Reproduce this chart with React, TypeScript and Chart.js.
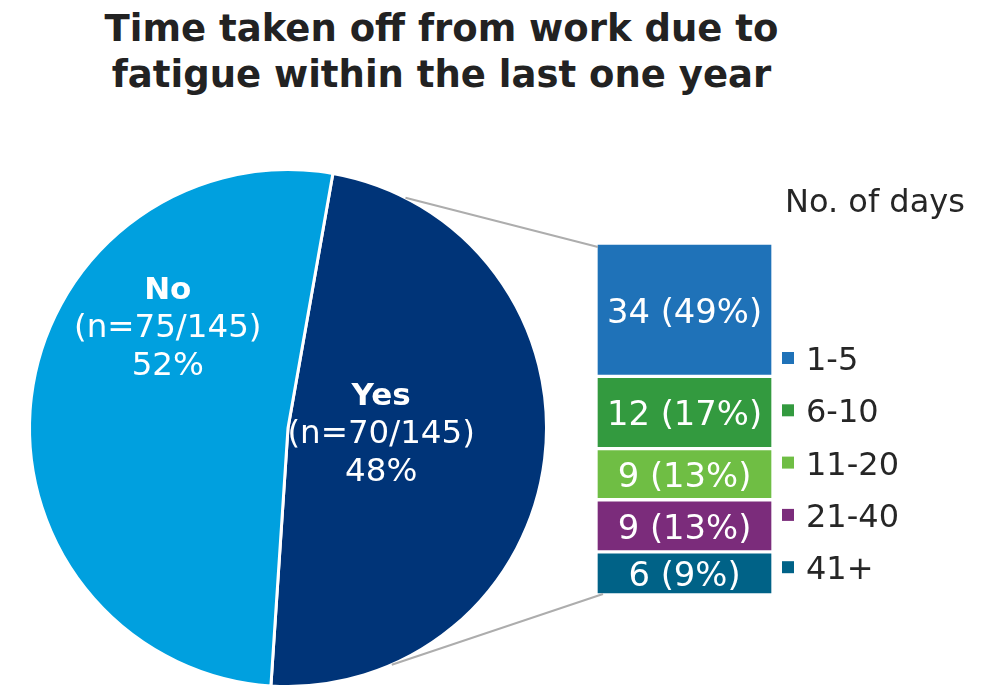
import React, { useEffect, useRef } from 'react';
import { Chart, registerables } from 'chart.js';

Chart.register(...registerables);

// ---------- data ----------
const titleLines = ['Time taken off from work due to', 'fatigue within the last one year'];

const pieCategories = ['Yes', 'No'];
const pieCounts = [70, 75];
const pieTotal = 145;
const piePercents = [48, 52];
const pieColors = ['#003478', '#00A0DF'];

const dayCategories = ['1-5', '6-10', '11-20', '21-40', '41+'];
const dayCounts = [34, 12, 9, 9, 6];
const dayPercents = [49, 17, 13, 13, 9];
// relative box sizes of the stacked bar as drawn in the reference
const dayBoxSizes = [133, 72, 51, 52, 43];
const dayColors = ['#1F72B8', '#339A3F', '#6FBE44', '#7B2C7B', '#006287'];
const legendTitle = 'No. of days';

const W = 985;
const H = 690;
const FONT = '"DejaVu Sans", Verdana, sans-serif';
const TEXT_DARK = '#262626';

// label spots inside the pie (angle in degrees, canvas convention; radius as fraction)
const pieLabelSpots = [
  { angle: 9.2, radius: 0.365 },
  { angle: -142.8, radius: 0.584 },
];

export default function App() {
  const pieRef = useRef<HTMLCanvasElement | null>(null);
  const barRef = useRef<HTMLCanvasElement | null>(null);

  useEffect(() => {
    if (!pieRef.current || !barRef.current) return;

    const pieLabelPlugin = {
      id: 'pieLabels',
      afterDatasetsDraw(chart: any) {
        const ctx = chart.ctx;
        const arcs = chart.getDatasetMeta(0).data;
        arcs.forEach((arc: any, i: number) => {
          const { x, y, outerRadius } = arc.getProps(['x', 'y', 'outerRadius'], true);
          const spot = pieLabelSpots[i];
          const a = (spot.angle * Math.PI) / 180;
          const cx = x + Math.cos(a) * outerRadius * spot.radius;
          const cy = y + Math.sin(a) * outerRadius * spot.radius;
          ctx.save();
          ctx.fillStyle = '#ffffff';
          ctx.textAlign = 'center';
          ctx.textBaseline = 'alphabetic';
          ctx.font = `bold 31px ${FONT}`;
          ctx.fillText(pieCategories[i], cx, cy - 38);
          ctx.font = `32.5px ${FONT}`;
          ctx.fillText(`(n=${pieCounts[i]}/${pieTotal})`, cx, cy);
          ctx.fillText(`${piePercents[i]}%`, cx, cy + 38);
          ctx.restore();
        });
      },
    };

    const pie = new Chart(pieRef.current, {
      type: 'pie',
      data: {
        labels: pieCategories,
        datasets: [
          {
            data: pieCounts,
            backgroundColor: pieColors,
            borderColor: '#ffffff',
            borderWidth: 3,
          },
        ],
      },
      options: {
        responsive: false,
        animation: false,
        rotation: 10,
        layout: { padding: { left: 28, right: W - 548, top: 168, bottom: 2 } },
        plugins: {
          legend: { display: false },
          tooltip: { enabled: false },
        },
      },
      plugins: [pieLabelPlugin],
    } as any);

    const barExtrasPlugin = {
      id: 'barExtras',
      afterDatasetsDraw(chart: any) {
        const ctx = chart.ctx;
        const area = chart.chartArea;
        ctx.save();
        // segment labels
        ctx.fillStyle = '#ffffff';
        ctx.textAlign = 'center';
        ctx.textBaseline = 'alphabetic';
        ctx.font = `33.8px ${FONT}`;
        let firstTop = 0;
        let lastBottom = 0;
        let barLeft = 0;
        dayCategories.forEach((_, i) => {
          const el = chart.getDatasetMeta(i).data[0];
          const { x, y, base, width } = el.getProps(['x', 'y', 'base', 'width'], true);
          const top = Math.min(y, base);
          const bottom = Math.max(y, base);
          if (i === 0) firstTop = top;
          if (i === dayCategories.length - 1) lastBottom = bottom;
          barLeft = x - width / 2;
          const cy = (top + bottom) / 2;
          ctx.fillText(`${dayCounts[i]} (${dayPercents[i]}%)`, x, cy + 13);
        });

        // connector lines from pie to bar
        const arc: any = pie.getDatasetMeta(0).data[0];
        const { x: px, y: py, outerRadius, startAngle, endAngle } = arc.getProps(
          ['x', 'y', 'outerRadius', 'startAngle', 'endAngle'],
          true
        );
        const span = endAngle - startAngle;
        const a1 = startAngle + span * 0.098;
        const a2 = startAngle + span * 0.842;
        ctx.strokeStyle = '#ADADAD';
        ctx.lineWidth = 2;
        ctx.beginPath();
        ctx.moveTo(px + Math.cos(a1) * outerRadius, py + Math.sin(a1) * outerRadius);
        ctx.lineTo(barLeft + 2, firstTop + 4);
        ctx.moveTo(px + Math.cos(a2) * outerRadius, py + Math.sin(a2) * outerRadius);
        ctx.lineTo(barLeft + 7, lastBottom - 1);
        ctx.stroke();

        // legend title
        ctx.fillStyle = TEXT_DARK;
        ctx.textAlign = 'left';
        ctx.font = `32px ${FONT}`;
        ctx.fillText(legendTitle, area.right + 12, area.top - 31);

        // legend items
        ctx.font = `32px ${FONT}`;
        dayCategories.forEach((cat, i) => {
          const cy = area.top + 115 + i * 52.3;
          const sx = area.right + 9;
          ctx.fillStyle = dayColors[i];
          ctx.fillRect(sx, cy - 6, 12, 12);
          ctx.fillStyle = TEXT_DARK;
          ctx.fillText(cat, sx + 24, cy + 12);
        });
        ctx.restore();
      },
    };

    const boxTotal = dayBoxSizes.reduce((s, v) => s + v, 0);

    const bar = new Chart(barRef.current, {
      type: 'bar',
      data: {
        labels: ['Yes'],
        datasets: dayCategories.map((cat, i) => ({
          label: cat,
          data: [dayBoxSizes[i]],
          backgroundColor: dayColors[i],
          borderColor: '#ffffff',
          borderWidth: 2,
          borderSkipped: false,
          categoryPercentage: 1,
          barPercentage: 1,
        })),
      },
      options: {
        responsive: false,
        animation: false,
        layout: { padding: { left: 596, right: W - 773, top: 243, bottom: H - 595 } },
        scales: {
          x: { display: false, stacked: true },
          y: { display: false, stacked: true, min: 0, max: boxTotal, reverse: true },
        },
        plugins: {
          legend: { display: false },
          tooltip: { enabled: false },
        },
        events: [],
      },
      plugins: [barExtrasPlugin],
    } as any);

    return () => {
      bar.destroy();
      pie.destroy();
    };
  }, []);

  return (
    <div
      style={{
        position: 'absolute',
        left: 0,
        top: 0,
        width: W,
        height: H,
        background: '#ffffff',
        overflow: 'hidden',
      }}
    >
      <div
        style={{
          position: 'absolute',
          left: 0,
          top: 6,
          width: 883,
          textAlign: 'center',
          fontFamily: FONT,
          fontWeight: 700,
          fontSize: 37,
          lineHeight: '46px',
          color: '#222222',
        }}
      >
        {titleLines.map((t) => (
          <div key={t}>{t}</div>
        ))}
      </div>
      <canvas
        ref={pieRef}
        width={W}
        height={H}
        style={{ position: 'absolute', left: 0, top: 0, width: W, height: H }}
      />
      <canvas
        ref={barRef}
        width={W}
        height={H}
        style={{ position: 'absolute', left: 0, top: 0, width: W, height: H }}
      />
    </div>
  );
}
